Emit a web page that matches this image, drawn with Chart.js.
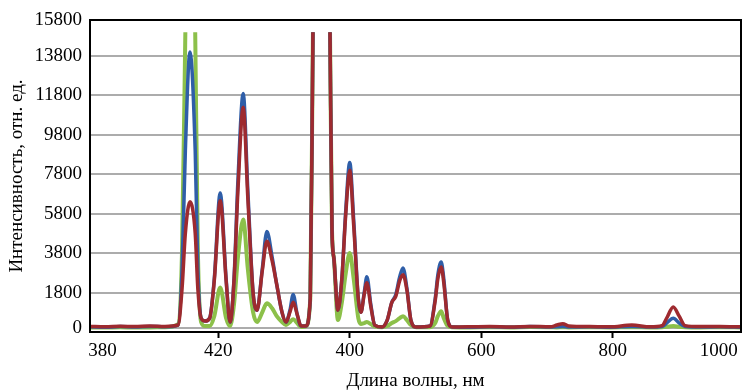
<!DOCTYPE html>
<html>
<head>
    <title>Спектр</title>
    <script src="https://cdn.jsdelivr.net/npm/chart.js"></script>
    <style>
        body { margin: 0; background: #fff; }
        canvas { display: block; }
    </style>
</head>
<body>
    <canvas id="spectrum" width="742" height="392"></canvas>

    <script>
        // positions along the x axis (axis units), shared by all three curves
        const positions = [5, 28, 51, 73, 96, 119, 139, 145, 150, 157, 165, 169, 174, 180, 187, 194, 203, 212, 218,
            224, 230, 238, 245, 253, 259, 267, 274, 282, 289, 297, 303, 309, 314, 320, 326, 333, 340, 344, 357, 370,
            373, 376, 382, 388, 394, 400, 406, 413, 417, 422, 426, 432, 438, 449, 457, 464, 470, 476, 481, 487, 493,
            501, 522, 530, 534, 539, 543, 549, 556, 583, 613, 644, 674, 705, 715, 724, 733, 765, 796, 829, 857, 875,
            882, 892, 901, 910, 933, 963, 995];

        // null = saturated detector, the line breaks at the top
        const blueValues = [60, 40, 70, 50, 80, 60, 150, 3000, 9000, 14000, 9000, 3000, 500, 350, 500, 2500, 6850, 2500, 300,
            2500, 7500, 11900, 7000, 1800, 900, 3000, 4900, 3600, 2200, 800, 300, 900, 1700, 700, 100, 100, 1500, 15000, null, 15000,
            5000, 3500, 900, 2500, 6000, 8400, 5500, 1500, 800, 1800, 2600, 1200, 150, 50, 400, 1300, 1700, 2600, 3050, 2000, 400,
            50, 100, 1500, 2700, 3350, 2500, 400, 50, 40, 60, 40, 70, 50, 60, 80, 50, 60, 40, 80, 50, 80,
            250, 500, 250, 80, 50, 60, 40];

        const redValues = [80, 60, 90, 70, 100, 80, 150, 2000, 4800, 6400, 4800, 2000, 500, 350, 500, 2400, 6450, 2400, 300,
            2400, 7000, 11200, 6600, 1800, 900, 2900, 4400, 3400, 2200, 800, 300, 800, 1300, 700, 100, 100, 1500, 15000, null, 15000,
            5000, 3500, 900, 2500, 5800, 8000, 5200, 1500, 800, 1700, 2300, 1100, 150, 50, 400, 1300, 1600, 2400, 2700, 1900, 400,
            50, 100, 1400, 2500, 3100, 2300, 400, 50, 60, 80, 50, 80, 60, 150, 220, 100, 70, 60, 150, 60, 120,
            500, 1070, 600, 120, 70, 80, 60];

        const greenValues = [30, 20, 40, 20, 30, 40, 200, 4000, 15000, null, 15000, 4000, 300, 100, 100, 600, 2050, 500, 100,
            1200, 3600, 5500, 3000, 800, 300, 800, 1250, 1000, 600, 300, 150, 300, 450, 250, 50, 80, 1500, 15000, null, 15000,
            5000, 3500, 400, 1300, 2800, 3800, 2500, 500, 200, 250, 300, 200, 80, 40, 100, 250, 350, 500, 600, 400, 150,
            40, 40, 250, 600, 850, 500, 100, 40, 30, 40, 30, 50, 40, 30, 40, 30, 40, 30, 40, 30, 40,
            60, 100, 60, 40, 30, 40, 30];

        const xTickValues = [24, 200, 400, 600, 800, 961];
        const xTickLabels = ['380', '420', '400', '600', '800', '1000'];
        // the top label "15800" sits on the upper frame of the plot
        const yMin = -203;
        const yMax = 15626;
        const yTickValues = [0, 1800, 3800, 5800, 7800, 9800, 11800, 13800, yMax];
        const yTickLabels = ['0', '1800', '3800', '5800', '7800', '9800', '11800', '13800', '15800'];

        const toPoints = values => positions.map((x, i) => ({ x: x, y: values[i] }));
        const serif = { family: '"Liberation Serif", "Times New Roman", serif', size: 19 };

        // black frame round the plot area
        const frame = {
            id: 'frame',
            afterDraw(chart) {
                const a = chart.chartArea;
                const ctx = chart.ctx;
                ctx.save();
                ctx.strokeStyle = '#000';
                ctx.lineWidth = 2;
                ctx.strokeRect(a.left, a.top, a.right - a.left, a.bottom - a.top);
                ctx.restore();
            }
        };

        new Chart(document.getElementById('spectrum'), {
            type: 'line',
            data: {
                datasets: [
                    { label: 'red', data: toPoints(redValues), borderColor: '#9e2a2f', borderWidth: 3.5, order: 0 },
                    { label: 'blue', data: toPoints(blueValues), borderColor: '#2f5ea8', borderWidth: 3.5, order: 1 },
                    { label: 'green', data: toPoints(greenValues), borderColor: '#8cc04a', borderWidth: 4, order: 2 }
                ]
            },
            options: {
                responsive: false,
                animation: false,
                layout: { padding: { top: 20, right: 1, left: 0, bottom: 0 } },
                elements: {
                    point: { radius: 0 },
                    line: { cubicInterpolationMode: 'monotone' }
                },
                plugins: { legend: { display: false }, tooltip: { enabled: false } },
                scales: {
                    x: {
                        type: 'linear',
                        min: 5,
                        max: 995,
                        afterBuildTicks: s => { s.ticks = xTickValues.map(v => ({ value: v })); },
                        afterFit: s => { s.height = 60; },
                        ticks: {
                            color: '#000',
                            font: serif,
                            padding: 2,
                            maxRotation: 0,
                            autoSkip: false,
                            callback: (v, i) => xTickLabels[i]
                        },
                        grid: {
                            drawOnChartArea: false,
                            tickLength: 6,
                            tickWidth: 2,
                            tickColor: c => (c.index === 0 || c.index === xTickValues.length - 1) ? 'rgba(0,0,0,0)' : '#000'
                        },
                        border: { color: '#000', width: 2 },
                        title: { display: true, text: 'Длина волны, нм', color: '#000', font: serif, padding: { top: 0, bottom: 0 } }
                    },
                    y: {
                        min: yMin,
                        max: yMax,
                        afterBuildTicks: s => { s.ticks = yTickValues.map(v => ({ value: v })); },
                        afterFit: s => { s.width = 90; },
                        ticks: { color: '#000', font: serif, padding: 8, callback: (v, i) => yTickLabels[i] },
                        grid: { color: '#acacac', lineWidth: 2, drawTicks: false },
                        border: { color: '#000', width: 2 },
                        title: { display: true, text: 'Интенсивность, отн. ед.', color: '#000', font: serif, padding: { top: 6, bottom: 0 } }
                    }
                }
            },
            plugins: [frame]
        });
    </script>
</body>
</html>
